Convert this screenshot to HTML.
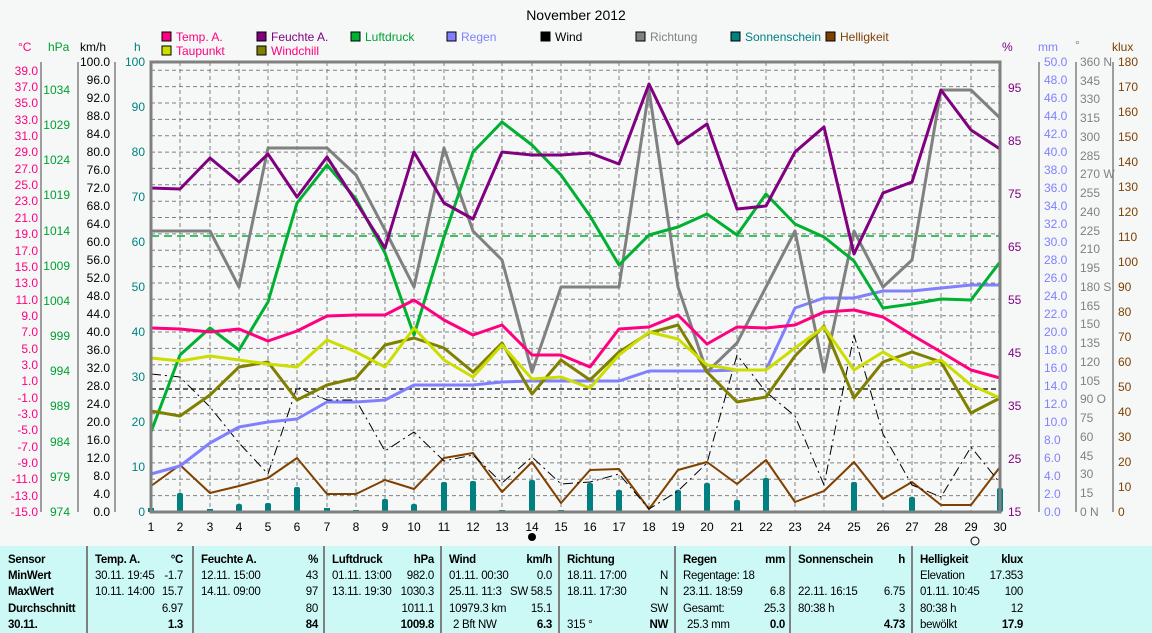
<!DOCTYPE html>
<html><head><meta charset="utf-8"><style>
html,body{margin:0;padding:0;background:#f6f8f8;}
svg{display:block;font-family:"Liberation Sans",sans-serif;font-size:12px;}
</style></head><body>
<svg width="1152" height="633" viewBox="0 0 1152 633" xmlns="http://www.w3.org/2000/svg">
<rect width="1152" height="633" fill="#f6f8f8"/>
<text x="576" y="20" text-anchor="middle" font-size="14">November 2012</text>

<!-- legend -->
<g font-size="12">
<rect x="162" y="32" width="9" height="9" fill="#ff0080" stroke="#000"/><text x="176" y="41" fill="#ff0080">Temp. A.</text>
<rect x="162" y="46" width="9" height="9" fill="#ccdd00" stroke="#000"/><text x="176" y="55" fill="#ff0080">Taupunkt</text>
<rect x="257" y="32" width="9" height="9" fill="#800080" stroke="#000"/><text x="271" y="41" fill="#800080">Feuchte A.</text>
<rect x="257" y="46" width="9" height="9" fill="#808000" stroke="#000"/><text x="271" y="55" fill="#ff0080">Windchill</text>
<rect x="351" y="32" width="9" height="9" fill="#00b030" stroke="#000"/><text x="365" y="41" fill="#00a030">Luftdruck</text>
<rect x="447" y="32" width="9" height="9" fill="#8080ff" stroke="#000"/><text x="461" y="41" fill="#8080ff">Regen</text>
<rect x="541" y="32" width="9" height="9" fill="#000" stroke="#000"/><text x="555" y="41" fill="#000">Wind</text>
<rect x="636" y="32" width="9" height="9" fill="#808080" stroke="#000"/><text x="650" y="41" fill="#808080">Richtung</text>
<rect x="731" y="32" width="9" height="9" fill="#008080" stroke="#000"/><text x="745" y="41" fill="#008080">Sonnenschein</text>
<rect x="826" y="32" width="9" height="9" fill="#804000" stroke="#000"/><text x="840" y="41" fill="#804000">Helligkeit</text>
</g>

<!-- axis headers -->
<text x="18" y="51" fill="#ff0080">°C</text>
<text x="48" y="51" fill="#00a030">hPa</text>
<text x="80" y="51" fill="#000">km/h</text>
<text x="134" y="51" fill="#008080">h</text>
<text x="1002" y="51" fill="#800080">%</text>
<text x="1038" y="51" fill="#8080ff">mm</text>
<text x="1075" y="49" fill="#808080">°</text>
<text x="1112" y="51" fill="#804000">klux</text>

<!-- grid -->
<g stroke="#808080" stroke-width="1" stroke-dasharray="4,3">
<line x1="151" x2="1000" y1="495.6" y2="495.6"/><line x1="151" x2="1000" y1="479.3" y2="479.3"/><line x1="151" x2="1000" y1="462.9" y2="462.9"/><line x1="151" x2="1000" y1="446.6" y2="446.6"/><line x1="151" x2="1000" y1="430.2" y2="430.2"/><line x1="151" x2="1000" y1="413.8" y2="413.8"/><line x1="151" x2="1000" y1="397.5" y2="397.5"/><line x1="151" x2="1000" y1="381.1" y2="381.1"/><line x1="151" x2="1000" y1="364.8" y2="364.8"/><line x1="151" x2="1000" y1="348.4" y2="348.4"/><line x1="151" x2="1000" y1="332" y2="332"/><line x1="151" x2="1000" y1="315.7" y2="315.7"/><line x1="151" x2="1000" y1="299.3" y2="299.3"/><line x1="151" x2="1000" y1="283" y2="283"/><line x1="151" x2="1000" y1="266.6" y2="266.6"/><line x1="151" x2="1000" y1="250.2" y2="250.2"/><line x1="151" x2="1000" y1="233.9" y2="233.9"/><line x1="151" x2="1000" y1="217.5" y2="217.5"/><line x1="151" x2="1000" y1="201.2" y2="201.2"/><line x1="151" x2="1000" y1="184.8" y2="184.8"/><line x1="151" x2="1000" y1="168.4" y2="168.4"/><line x1="151" x2="1000" y1="152.1" y2="152.1"/><line x1="151" x2="1000" y1="135.7" y2="135.7"/><line x1="151" x2="1000" y1="119.4" y2="119.4"/><line x1="151" x2="1000" y1="103" y2="103"/><line x1="151" x2="1000" y1="86.6" y2="86.6"/><line x1="151" x2="1000" y1="70.3" y2="70.3"/>
<line x1="180" x2="180" y1="62" y2="512"/><line x1="210" x2="210" y1="62" y2="512"/><line x1="239" x2="239" y1="62" y2="512"/><line x1="268" x2="268" y1="62" y2="512"/><line x1="297" x2="297" y1="62" y2="512"/><line x1="327" x2="327" y1="62" y2="512"/><line x1="356" x2="356" y1="62" y2="512"/><line x1="385" x2="385" y1="62" y2="512"/><line x1="414" x2="414" y1="62" y2="512"/><line x1="444" x2="444" y1="62" y2="512"/><line x1="473" x2="473" y1="62" y2="512"/><line x1="502" x2="502" y1="62" y2="512"/><line x1="532" x2="532" y1="62" y2="512"/><line x1="561" x2="561" y1="62" y2="512"/><line x1="590" x2="590" y1="62" y2="512"/><line x1="619" x2="619" y1="62" y2="512"/><line x1="649" x2="649" y1="62" y2="512"/><line x1="678" x2="678" y1="62" y2="512"/><line x1="707" x2="707" y1="62" y2="512"/><line x1="737" x2="737" y1="62" y2="512"/><line x1="766" x2="766" y1="62" y2="512"/><line x1="795" x2="795" y1="62" y2="512"/><line x1="824" x2="824" y1="62" y2="512"/><line x1="854" x2="854" y1="62" y2="512"/><line x1="883" x2="883" y1="62" y2="512"/><line x1="912" x2="912" y1="62" y2="512"/><line x1="941" x2="941" y1="62" y2="512"/><line x1="971" x2="971" y1="62" y2="512"/>
</g>
<line x1="151" x2="1000" y1="236" y2="236" stroke="#00b030" stroke-width="1.5" stroke-dasharray="8,5"/>
<line x1="151" x2="1000" y1="389" y2="389" stroke="#000" stroke-width="1.2" stroke-dasharray="5,3"/>

<!-- sunshine bars -->
<g fill="#008080">
<rect x="148" y="508" width="6" height="4"/><rect x="177" y="493" width="6" height="19" rx="2"/><rect x="207" y="509" width="6" height="3"/><rect x="236" y="504" width="6" height="8" rx="2"/><rect x="265" y="503" width="6" height="9" rx="2"/><rect x="294" y="487" width="6" height="25" rx="2"/><rect x="324" y="508" width="6" height="4"/><rect x="353" y="510" width="6" height="2"/><rect x="382" y="499" width="6" height="13" rx="2"/><rect x="411" y="504" width="6" height="8" rx="2"/><rect x="441" y="482" width="6" height="30" rx="2"/><rect x="470" y="481" width="6" height="31" rx="2"/><rect x="499" y="510" width="6" height="2"/><rect x="529" y="480" width="6" height="32" rx="2"/><rect x="558" y="510" width="6" height="2"/><rect x="587" y="483" width="6" height="29" rx="2"/><rect x="616" y="490" width="6" height="22" rx="2"/><rect x="675" y="490" width="6" height="22" rx="2"/><rect x="704" y="483" width="6" height="29" rx="2"/><rect x="734" y="500" width="6" height="12" rx="2"/><rect x="763" y="478" width="6" height="34" rx="2"/><rect x="851" y="482" width="6" height="30" rx="2"/><rect x="909" y="497" width="6" height="15" rx="2"/><rect x="997" y="488" width="6" height="24" rx="2"/>
</g>

<!-- series -->
<g fill="none" stroke-linejoin="round">
<polyline stroke="#804000" stroke-width="2" points="151,486 180,465 210,493 239,486 268,478 297,458 327,494 356,494 385,480 414,489 444,458 473,453 502,492 532,462 561,503 590,470 619,469 649,509 678,470 707,462 737,484 766,460 795,502 824,491 854,462 883,499 912,482 941,505 971,505 1000,467"/>
<polyline stroke="#000" stroke-width="1" stroke-dasharray="10,4,2,4" points="151,374 180,377 210,407 239,443 268,474 297,387 327,400 356,400 385,451 414,432 444,461 473,455 502,483 532,457 561,484 590,482 619,474 649,509 678,491 707,463 737,355 766,392 795,416 824,485 854,335 883,434 912,485 941,497 971,447 1000,483"/>
<polyline stroke="#8080ff" stroke-width="3" points="151,474 180,466 210,443 239,427 268,422 297,419 327,402 356,402 385,400 414,385 444,385 473,385 502,382 532,381 561,381 590,381 619,381 649,371 678,371 707,371 737,370 766,370 795,308 824,298 854,298 883,291 912,291 941,288 971,285 1000,285"/>
<polyline stroke="#808080" stroke-width="3" points="151,231 180,231 210,231 239,287 268,148 297,148 327,148 356,175 385,230 414,287 444,148 473,231 502,260 532,372 561,287 590,287 619,287 649,90 678,287 707,372 737,343 766,287 795,231 824,372 854,231 883,287 912,260 941,90 971,90 1000,118"/>
<polyline stroke="#00b030" stroke-width="3" points="151,432 180,355 210,328 239,350 268,302 297,203 327,165 356,199 385,253 414,335 444,237 473,152 502,122 532,145 561,175 590,216 619,265 649,235 678,227 707,214 737,235 766,194 795,224 824,237 854,261 883,308 912,304 941,299 971,300 1000,262"/>
<polyline stroke="#808000" stroke-width="3" points="151,411 180,416 210,395 239,367 268,362 297,400 327,385 356,378 385,345 414,338 444,348 473,372 502,343 532,394 561,360 590,380 619,352 649,333 678,325 707,372 737,402 766,397 795,356 824,326 854,398 883,362 912,352 941,362 971,413 1000,398"/>
<polyline stroke="#ccdd00" stroke-width="3" points="151,358 180,361 210,356 239,360 268,364 297,367 327,340 356,352 385,367 414,328 444,360 473,377 502,345 532,379 561,377 590,388 619,355 649,332 678,339 707,365 737,370 766,370 795,348 824,327 854,370 883,352 912,368 941,360 971,385 1000,398"/>
<polyline stroke="#ff0080" stroke-width="3" points="151,328 180,329 210,332 239,329 268,341 297,331 327,316 356,315 385,315 414,300 444,320 473,335 502,325 532,355 561,355 590,367 619,329 649,327 678,315 707,344 737,327 766,328 795,325 824,312 854,310 883,317 912,335 941,352 971,370 1000,378"/>
<polyline stroke="#800080" stroke-width="3" points="151,188 180,189 210,158 239,182 268,154 297,197 327,157 356,202 385,248 414,152 444,203 473,219 502,152 532,155 561,155 590,153 619,164 649,84 678,144 707,124 737,209 766,206 795,152 824,127 854,254 883,193 912,182 941,90 971,130 1000,149"/>
</g>

<!-- frame -->
<rect x="151" y="62" width="849" height="450" fill="none" stroke="#808080" stroke-width="3"/>

<!-- axes lines -->
<g stroke="#808080" stroke-width="1.5">
<line x1="41" x2="41" y1="62" y2="512"/><line x1="78" x2="78" y1="62" y2="512"/><line x1="115" x2="115" y1="62" y2="512"/>
<line x1="1039" x2="1039" y1="62" y2="512"/><line x1="1076" x2="1076" y1="62" y2="512"/><line x1="1113" x2="1113" y1="62" y2="512"/>
</g>

<!-- °C -->
<g fill="#ff0080" text-anchor="end">
<text x="38" y="75">39.0</text><text x="38" y="91">37.0</text><text x="38" y="107">35.0</text><text x="38" y="124">33.0</text><text x="38" y="140">31.0</text><text x="38" y="156">29.0</text><text x="38" y="173">27.0</text><text x="38" y="189">25.0</text><text x="38" y="205">23.0</text><text x="38" y="222">21.0</text><text x="38" y="238">19.0</text><text x="38" y="255">17.0</text><text x="38" y="271">15.0</text><text x="38" y="287">13.0</text><text x="38" y="304">11.0</text><text x="38" y="320">9.0</text><text x="38" y="336">7.0</text><text x="38" y="353">5.0</text><text x="38" y="369">3.0</text><text x="38" y="385">1.0</text><text x="38" y="402">-1.0</text><text x="38" y="418">-3.0</text><text x="38" y="434">-5.0</text><text x="38" y="451">-7.0</text><text x="38" y="467">-9.0</text><text x="38" y="483">-11.0</text><text x="38" y="500">-13.0</text><text x="38" y="516">-15.0</text>
</g>
<!-- hPa -->
<g fill="#00a030" text-anchor="end">
<text x="70" y="94">1034</text><text x="70" y="129">1029</text><text x="70" y="164">1024</text><text x="70" y="199">1019</text><text x="70" y="235">1014</text><text x="70" y="270">1009</text><text x="70" y="305">1004</text><text x="70" y="340">999</text><text x="70" y="375">994</text><text x="70" y="410">989</text><text x="70" y="446">984</text><text x="70" y="481">979</text><text x="70" y="516">974</text>
</g>
<!-- km/h -->
<g fill="#000" text-anchor="end">
<text x="110" y="66">100.0</text><text x="110" y="84">96.0</text><text x="110" y="102">92.0</text><text x="110" y="120">88.0</text><text x="110" y="138">84.0</text><text x="110" y="156">80.0</text><text x="110" y="174">76.0</text><text x="110" y="192">72.0</text><text x="110" y="210">68.0</text><text x="110" y="228">64.0</text><text x="110" y="246">60.0</text><text x="110" y="264">56.0</text><text x="110" y="282">52.0</text><text x="110" y="300">48.0</text><text x="110" y="318">44.0</text><text x="110" y="336">40.0</text><text x="110" y="354">36.0</text><text x="110" y="372">32.0</text><text x="110" y="390">28.0</text><text x="110" y="408">24.0</text><text x="110" y="426">20.0</text><text x="110" y="444">16.0</text><text x="110" y="462">12.0</text><text x="110" y="480">8.0</text><text x="110" y="498">4.0</text><text x="110" y="516">0.0</text>
</g>
<!-- h -->
<g fill="#008080" text-anchor="end">
<text x="145" y="66">100</text><text x="145" y="111">90</text><text x="145" y="156">80</text><text x="145" y="201">70</text><text x="145" y="246">60</text><text x="145" y="291">50</text><text x="145" y="336">40</text><text x="145" y="381">30</text><text x="145" y="426">20</text><text x="145" y="471">10</text><text x="145" y="516">0</text>
</g>
<!-- % -->
<g fill="#800080">
<text x="1008" y="92">95</text><text x="1008" y="145">85</text><text x="1008" y="198">75</text><text x="1008" y="251">65</text><text x="1008" y="304">55</text><text x="1008" y="357">45</text><text x="1008" y="410">35</text><text x="1008" y="463">25</text><text x="1008" y="516">15</text>
</g>
<!-- mm -->
<g fill="#8080ff">
<text x="1044" y="66">50.0</text><text x="1044" y="84">48.0</text><text x="1044" y="102">46.0</text><text x="1044" y="120">44.0</text><text x="1044" y="138">42.0</text><text x="1044" y="156">40.0</text><text x="1044" y="174">38.0</text><text x="1044" y="192">36.0</text><text x="1044" y="210">34.0</text><text x="1044" y="228">32.0</text><text x="1044" y="246">30.0</text><text x="1044" y="264">28.0</text><text x="1044" y="282">26.0</text><text x="1044" y="300">24.0</text><text x="1044" y="318">22.0</text><text x="1044" y="336">20.0</text><text x="1044" y="354">18.0</text><text x="1044" y="372">16.0</text><text x="1044" y="390">14.0</text><text x="1044" y="408">12.0</text><text x="1044" y="426">10.0</text><text x="1044" y="444">8.0</text><text x="1044" y="462">6.0</text><text x="1044" y="480">4.0</text><text x="1044" y="498">2.0</text><text x="1044" y="516">0.0</text>
</g>
<!-- direction -->
<g fill="#808080">
<text x="1080" y="66">360 N</text><text x="1080" y="85">345</text><text x="1080" y="103">330</text><text x="1080" y="122">315</text><text x="1080" y="141">300</text><text x="1080" y="160">285</text><text x="1080" y="178">270 W</text><text x="1080" y="197">255</text><text x="1080" y="216">240</text><text x="1080" y="235">225</text><text x="1080" y="253">210</text><text x="1080" y="272">195</text><text x="1080" y="291">180 S</text><text x="1080" y="310">165</text><text x="1080" y="328">150</text><text x="1080" y="347">135</text><text x="1080" y="366">120</text><text x="1080" y="385">105</text><text x="1080" y="403">90 O</text><text x="1080" y="422">75</text><text x="1080" y="441">60</text><text x="1080" y="460">45</text><text x="1080" y="478">30</text><text x="1080" y="497">15</text><text x="1080" y="516">0 N</text>
</g>
<!-- klux -->
<g fill="#804000">
<text x="1118" y="66">180</text><text x="1118" y="91">170</text><text x="1118" y="116">160</text><text x="1118" y="141">150</text><text x="1118" y="166">140</text><text x="1118" y="191">130</text><text x="1118" y="216">120</text><text x="1118" y="241">110</text><text x="1118" y="266">100</text><text x="1118" y="291">90</text><text x="1118" y="316">80</text><text x="1118" y="341">70</text><text x="1118" y="366">60</text><text x="1118" y="391">50</text><text x="1118" y="416">40</text><text x="1118" y="441">30</text><text x="1118" y="466">20</text><text x="1118" y="491">10</text><text x="1118" y="516">0</text>
</g>

<!-- x labels -->
<g text-anchor="middle" fill="#000">
<text x="151" y="531">1</text><text x="180" y="531">2</text><text x="210" y="531">3</text><text x="239" y="531">4</text><text x="268" y="531">5</text><text x="297" y="531">6</text><text x="327" y="531">7</text><text x="356" y="531">8</text><text x="385" y="531">9</text><text x="414" y="531">10</text><text x="444" y="531">11</text><text x="473" y="531">12</text><text x="502" y="531">13</text><text x="532" y="531">14</text><text x="561" y="531">15</text><text x="590" y="531">16</text><text x="619" y="531">17</text><text x="649" y="531">18</text><text x="678" y="531">19</text><text x="707" y="531">20</text><text x="737" y="531">21</text><text x="766" y="531">22</text><text x="795" y="531">23</text><text x="824" y="531">24</text><text x="854" y="531">25</text><text x="883" y="531">26</text><text x="912" y="531">27</text><text x="941" y="531">28</text><text x="971" y="531">29</text><text x="1000" y="531">30</text>
</g>
<circle cx="532" cy="537" r="4" fill="#000"/>
<circle cx="975" cy="541" r="4" fill="none" stroke="#000"/>

<!-- table -->
<rect x="0" y="546" width="1152" height="87" fill="#ccf9f6"/>
<g stroke="#808080" stroke-width="2">
<line x1="87" x2="87" y1="546" y2="633"/><line x1="193" x2="193" y1="546" y2="633"/><line x1="324" x2="324" y1="546" y2="633"/><line x1="441" x2="441" y1="546" y2="633"/><line x1="559" x2="559" y1="546" y2="633"/><line x1="675" x2="675" y1="546" y2="633"/><line x1="790" x2="790" y1="546" y2="633"/><line x1="912" x2="912" y1="546" y2="633"/>
</g>
<g font-size="11.5" fill="#000" letter-spacing="-0.3">
<g font-weight="bold"><text x="8" y="563">Sensor</text><text x="8" y="579">MinWert</text><text x="8" y="595">MaxWert</text><text x="8" y="612">Durchschnitt</text><text x="8" y="628">30.11.</text></g>
<text x="95" y="563" font-weight="bold">Temp. A.</text><text x="183" y="563" font-weight="bold" text-anchor="end">°C</text>
<text x="95" y="579">30.11. 19:45</text><text x="183" y="579" text-anchor="end">-1.7</text>
<text x="95" y="595">10.11. 14:00</text><text x="183" y="595" text-anchor="end">15.7</text>
<text x="183" y="612" text-anchor="end">6.97</text><text x="183" y="628" text-anchor="end" font-weight="bold">1.3</text>

<text x="201" y="563" font-weight="bold">Feuchte A.</text><text x="318" y="563" font-weight="bold" text-anchor="end">%</text>
<text x="201" y="579">12.11. 15:00</text><text x="318" y="579" text-anchor="end">43</text>
<text x="201" y="595">14.11. 09:00</text><text x="318" y="595" text-anchor="end">97</text>
<text x="318" y="612" text-anchor="end">80</text><text x="318" y="628" text-anchor="end" font-weight="bold">84</text>

<text x="332" y="563" font-weight="bold">Luftdruck</text><text x="434" y="563" font-weight="bold" text-anchor="end">hPa</text>
<text x="332" y="579">01.11. 13:00</text><text x="434" y="579" text-anchor="end">982.0</text>
<text x="332" y="595">13.11. 19:30</text><text x="434" y="595" text-anchor="end">1030.3</text>
<text x="434" y="612" text-anchor="end">1011.1</text><text x="434" y="628" text-anchor="end" font-weight="bold">1009.8</text>

<text x="449" y="563" font-weight="bold">Wind</text><text x="552" y="563" font-weight="bold" text-anchor="end">km/h</text>
<text x="449" y="579">01.11. 00:30</text><text x="552" y="579" text-anchor="end">0.0</text>
<text x="449" y="595">25.11. 11:3</text><text x="552" y="595" text-anchor="end">SW 58.5</text>
<text x="449" y="612">10979.3 km</text><text x="552" y="612" text-anchor="end">15.1</text>
<text x="453" y="628">2 Bft NW</text><text x="552" y="628" text-anchor="end" font-weight="bold">6.3</text>

<text x="567" y="563" font-weight="bold">Richtung</text>
<text x="567" y="579">18.11. 17:00</text><text x="668" y="579" text-anchor="end">N</text>
<text x="567" y="595">18.11. 17:30</text><text x="668" y="595" text-anchor="end">N</text>
<text x="668" y="612" text-anchor="end">SW</text>
<text x="567" y="628">315 °</text><text x="668" y="628" text-anchor="end" font-weight="bold">NW</text>

<text x="683" y="563" font-weight="bold">Regen</text><text x="785" y="563" font-weight="bold" text-anchor="end">mm</text>
<text x="683" y="579">Regentage: 18</text>
<text x="683" y="595">23.11. 18:59</text><text x="785" y="595" text-anchor="end">6.8</text>
<text x="683" y="612">Gesamt:</text><text x="785" y="612" text-anchor="end">25.3</text>
<text x="687" y="628">25.3 mm</text><text x="785" y="628" text-anchor="end" font-weight="bold">0.0</text>

<text x="798" y="563" font-weight="bold">Sonnenschein</text><text x="905" y="563" font-weight="bold" text-anchor="end">h</text>
<text x="798" y="595">22.11. 16:15</text><text x="905" y="595" text-anchor="end">6.75</text>
<text x="798" y="612">80:38 h</text><text x="905" y="612" text-anchor="end">3</text>
<text x="905" y="628" text-anchor="end" font-weight="bold">4.73</text>

<text x="920" y="563" font-weight="bold">Helligkeit</text><text x="1023" y="563" font-weight="bold" text-anchor="end">klux</text>
<text x="920" y="579">Elevation</text><text x="1023" y="579" text-anchor="end">17.353</text>
<text x="920" y="595">01.11. 10:45</text><text x="1023" y="595" text-anchor="end">100</text>
<text x="920" y="612">80:38 h</text><text x="1023" y="612" text-anchor="end">12</text>
<text x="920" y="628">bewölkt</text><text x="1023" y="628" text-anchor="end" font-weight="bold">17.9</text>
</g>
</svg>
</body></html>
